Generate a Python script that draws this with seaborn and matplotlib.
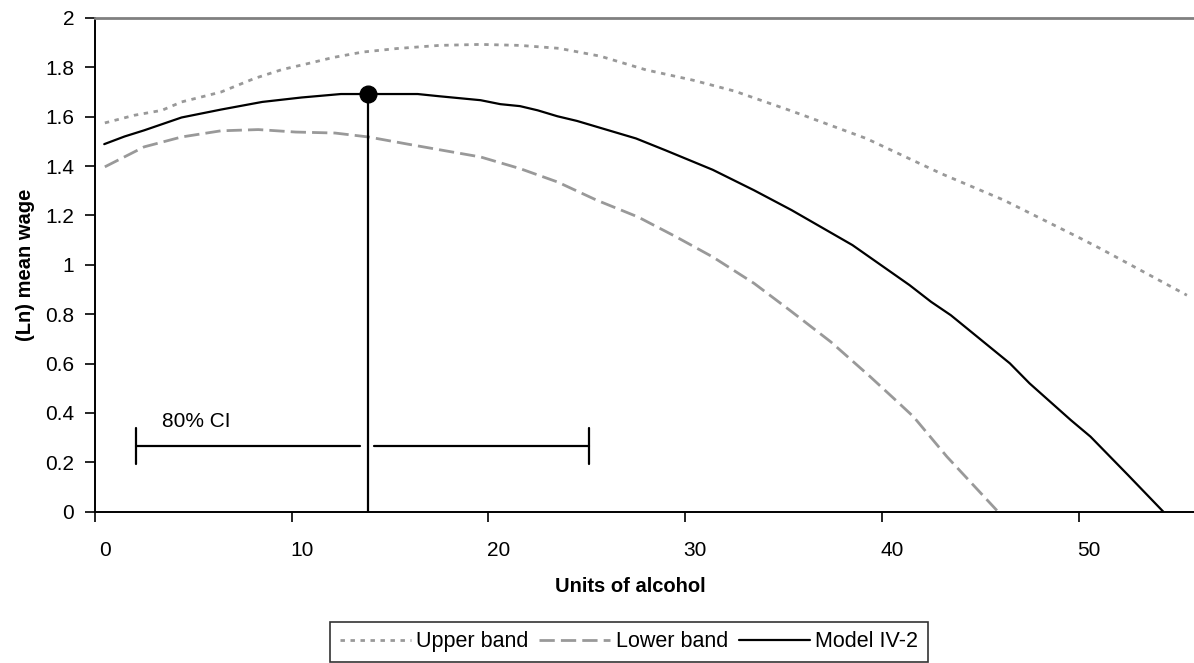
import matplotlib
matplotlib.use("Agg")
import matplotlib.pyplot as plt
import matplotlib.transforms as mtransforms
import seaborn as sns

# values
model_x = [0.47, 1.5, 2.5, 4.4, 6.4, 8.5, 10.5, 12.5, 13.9, 16.4, 17.5, 19.6, 20.6, 21.6, 22.5,
           23.5, 24.5, 27.5, 29.0, 31.4, 33.5, 35.4, 38.5, 41.4, 42.5, 43.5, 46.5, 47.5, 49.6,
           50.6, 52.5, 54.3]
model_y = [1.489, 1.52, 1.545, 1.597, 1.629, 1.66, 1.678, 1.692, 1.692, 1.692, 1.683, 1.667, 1.651,
           1.643, 1.626, 1.602, 1.583, 1.512, 1.464, 1.385, 1.302, 1.222, 1.08, 0.918, 0.85, 0.796,
           0.601, 0.52, 0.371, 0.304, 0.149, 0.0]

upper_x = [0.5, 2.0, 3.4, 4.4, 6.4, 8.1, 9.5, 10.8, 12.1, 13.6, 15.3, 17.5, 19.6, 21.6, 23.6, 25.7,
           28.0, 30.4, 32.5, 35.2, 36.0, 39.2, 43.0, 46.2, 50.1, 51.1, 55.5]
upper_y = [1.575, 1.606, 1.626, 1.66, 1.70, 1.755, 1.791, 1.815, 1.84, 1.862, 1.876, 1.889, 1.893,
           1.889, 1.877, 1.845, 1.79, 1.748, 1.704, 1.629, 1.606, 1.512, 1.37, 1.262, 1.107, 1.066,
           0.877]

lower_x = [0.5, 2.5, 4.4, 6.4, 8.3, 10.2, 12.2, 13.9, 15.9, 17.6, 19.6, 21.6, 23.5, 25.5, 27.6, 29.5,
           31.4, 33.5, 35.3, 37.4, 39.4, 40.6, 41.6, 43.3, 45.9]
lower_y = [1.397, 1.478, 1.518, 1.543, 1.548, 1.538, 1.534, 1.518, 1.489, 1.465, 1.437, 1.39, 1.336,
           1.262, 1.194, 1.115, 1.032, 0.925, 0.817, 0.688, 0.547, 0.459, 0.385, 0.223, 0.0]

peak_x, peak_y = 13.9, 1.692
ci_low, ci_high, ci_y = 2.1, 25.1, 0.266

y_ticks = [0, 0.2, 0.4, 0.6, 0.8, 1, 1.2, 1.4, 1.6, 1.8, 2]
y_ticklabels = ["0", "0.2", "0.4", "0.6", "0.8", "1", "1.2", "1.4", "1.6", "1.8", "2"]
x_ticks = [0, 10, 20, 30, 40, 50]

sns.set_theme(style="white")
plt.rcParams['font.family'] = ['Liberation Sans', 'DejaVu Sans']
plt.rcParams['text.color'] = "black"
plt.rcParams['axes.labelcolor'] = "black"

fig = plt.figure(figsize=(11.94, 6.63), dpi=100)
ax = fig.add_axes([95 / 1194, 151.3 / 663, 1 - 95 / 1194, 493.7 / 663])

grey = "#999999"
sns.lineplot(x=upper_x, y=upper_y, ax=ax, color=grey, linewidth=2.0,
             linestyle=(0, (1.6, 2.0)), label="Upper band")
sns.lineplot(x=lower_x, y=lower_y, ax=ax, color=grey, linewidth=2.0,
             linestyle=(0, (5.5, 2.2)), label="Lower band")
sns.lineplot(x=model_x, y=model_y, ax=ax, color="black", linewidth=1.6, label="Model IV-2")

# peak marker with a drop line
ax.plot([peak_x, peak_x], [0, peak_y], color="black", linewidth=1.6)
ax.plot([peak_x], [peak_y], "o", color="black", markersize=12)

# 80% CI bar
ax.plot([ci_low, peak_x - 0.45], [ci_y, ci_y], color="black", linewidth=1.6)
ax.plot([peak_x + 0.3, ci_high], [ci_y, ci_y], color="black", linewidth=1.6)
ax.plot([ci_low, ci_low], [ci_y - 0.072, ci_y + 0.072], color="black", linewidth=1.6)
ax.plot([ci_high, ci_high], [ci_y - 0.072, ci_y + 0.072], color="black", linewidth=1.6)
ax.text(3.4, ci_y + 0.1, "80% CI", fontsize=15, ha="left", va="center", color="black")

ax.set_xlim(0, 55.86)
ax.set_ylim(0, 2)
ax.set_yticks(y_ticks)
ax.set_yticklabels(y_ticklabels)
ax.set_xticks(x_ticks)
ax.set_xlabel("")
ax.set_ylabel("")

ax.tick_params(axis="both", direction="out", length=7, width=1.2, color="black",
               labelsize=15, labelcolor="black")
ax.tick_params(axis="y", pad=8)
ax.tick_params(axis="x", pad=14, bottom=True)
ax.tick_params(axis="y", left=True)
offset = mtransforms.ScaledTranslation(10 / 100, 0, fig.dpi_scale_trans)
for lab in ax.get_xticklabels():
    lab.set_transform(lab.get_transform() + offset)

for side in ["left", "bottom"]:
    ax.spines[side].set_color("black")
    ax.spines[side].set_linewidth(1.4)
ax.spines["top"].set_color("#808080")
ax.spines["top"].set_linewidth(2)
ax.spines["right"].set_visible(False)

fig.text(630 / 1194, 1 - 586 / 663, "Units of alcohol", fontsize=14.5, fontweight="bold",
         ha="center", va="center", color="black")
fig.text(26 / 1194, 1 - 265 / 663, "(Ln) mean wage", fontsize=14.5, fontweight="bold",
         ha="center", va="center", rotation=90, color="black")

handles, labels = ax.get_legend_handles_labels()
ax.legend_.remove()
leg = fig.legend(handles, labels, ncol=3, loc="upper left",
                 bbox_to_anchor=(330 / 1194, 1 - 621.7 / 663), fontsize=15.5,
                 frameon=True, fancybox=False, borderpad=0.45, handlelength=3.3,
                 handletextpad=0.25, columnspacing=0.5, borderaxespad=0)
leg.get_frame().set_edgecolor("black")
leg.get_frame().set_linewidth(1.2)
for t in leg.get_texts():
    t.set_color("black")

fig.savefig("out.png", dpi=100)
